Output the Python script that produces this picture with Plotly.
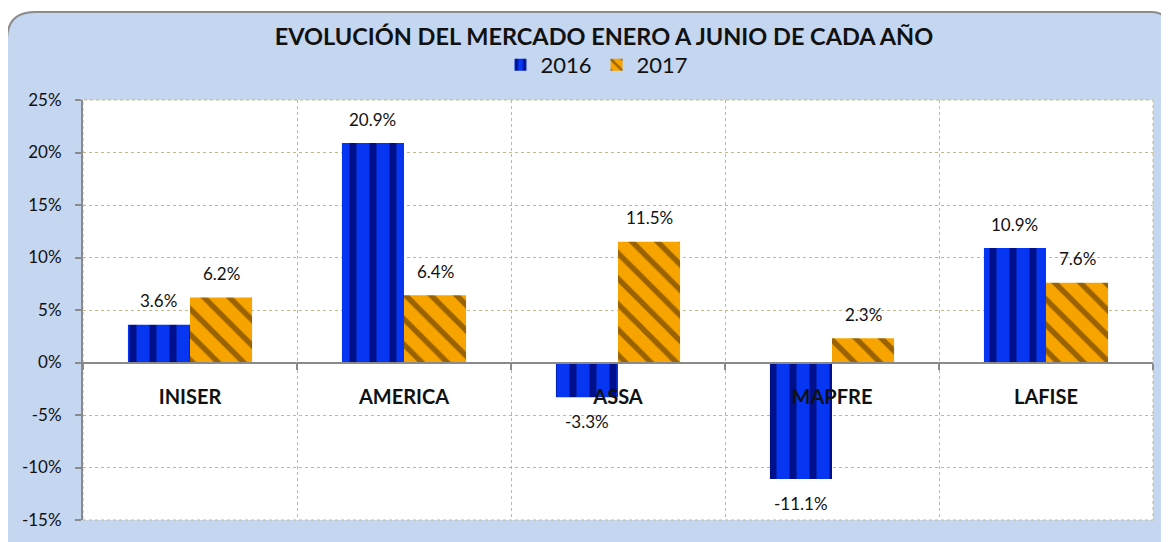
import plotly.graph_objects as go

categories = ["INISER", "AMERICA", "ASSA", "MAPFRE", "LAFISE"]
values_2016 = [0.036, 0.209, -0.033, -0.111, 0.109]
values_2017 = [0.062, 0.064, 0.115, 0.023, 0.076]
series_names = ["2016", "2017"]
y_tickvals = [-0.15, -0.10, -0.05, 0.0, 0.05, 0.10, 0.15, 0.20, 0.25]
y_ticktext = ["-15%", "-10%", "-5%", "0%", "5%", "10%", "15%", "20%", "25%"]
title_text = "EVOLUCIÓN DEL MERCADO ENERO A JUNIO DE CADA AÑO"

# the page body has an 8px margin; lay out in page pixels and convert
OFF = 8
W, H = 1169 - OFF, 542 - OFF


def px(xp):
    return (xp - OFF) / W


def py(yp):
    return 1 - (yp - OFF) / H


x0d, x1d = px(83), px(1153)
y0d, y1d = py(520), py(100)
ymin, ymax = -0.15, 0.25
zero_pos = y0d + (0 - ymin) / (ymax - ymin) * (y1d - y0d)

FONT = "Lato"
GRID = "#c4b888"
BARGAP = 0.42

fig = go.Figure()
fig.add_trace(go.Bar(
    name=series_names[0], x=categories, y=values_2016,
    marker=dict(color="#0a30f0", line=dict(width=0),
                pattern=dict(shape="|", fillmode="replace", bgcolor="#0636f2",
                             fgcolor="#00108a", size=20, solidity=0.35)),
))
fig.add_trace(go.Bar(
    name=series_names[1], x=categories, y=values_2017,
    marker=dict(color="#f0a000", line=dict(width=0),
                pattern=dict(shape="\\", fillmode="replace", bgcolor="#f7a400",
                             fgcolor="#9a6200", size=18, solidity=0.3)),
))

# data labels: offset from each bar end, centred on its bar
half = (1 - BARGAP) / 4
annotations = []
for offset, vals in ((-half, values_2016), (half, values_2017)):
    for i, v in enumerate(vals):
        annotations.append(dict(
            x=i + offset, y=v, xref="x", yref="y", text=f"{v * 100:.1f}%",
            showarrow=False, yshift=24 if v >= 0 else -24,
            xanchor="center", yanchor="middle",
            font=dict(family=FONT, size=17, color="#111")))

# rounded chart-area background
r1, r2 = 28, 14
bx0, by0, bx1, by1 = px(7), py(12), px(1166), py(560)
path = (f"M {bx0} {by1} L {bx0} {by0 - r1 / H} "
        f"Q {bx0} {by0} {bx0 + r1 / W} {by0} "
        f"L {bx1 - r2 / W} {by0} Q {bx1} {by0} {bx1} {by0 - r2 / H} "
        f"L {bx1} {by1} Z")

fig.update_layout(
    width=W, height=H,
    margin=dict(l=0, r=0, t=0, b=0, autoexpand=False),
    paper_bgcolor="white",
    plot_bgcolor="white",
    barmode="group", bargap=BARGAP, bargroupgap=0,
    font=dict(family=FONT, size=16, color="#111"),
    title=dict(text=f"<b>{title_text}</b>", x=px(604), xanchor="center",
               y=py(37), yanchor="middle",
               font=dict(family=FONT, size=23.5, color="#111")),
    legend=dict(orientation="h", x=px(597), xanchor="center", y=py(65),
                yanchor="middle", font=dict(family=FONT, size=22, color="#111"),
                bgcolor="rgba(0,0,0,0)", traceorder="normal",
                itemwidth=30, tracegroupgap=0),
    annotations=annotations,
    xaxis=dict(domain=[x0d, x1d], anchor="free", position=zero_pos, automargin=False,
               tickson="boundaries", showgrid=True, gridcolor=GRID, griddash="dot",
               gridwidth=1, showline=True, linecolor="#8a8a8a", linewidth=2,
               ticks="outside", ticklen=6, tickcolor="#8a8a8a", tickwidth=2,
               ticklabelstandoff=16, zeroline=False,
               tickfont=dict(family=FONT, size=20, color="#111", weight="bold")),
    yaxis=dict(domain=[y0d, y1d], range=[ymin, ymax], tickvals=y_tickvals, automargin=False,
               ticktext=y_ticktext, showgrid=True, gridcolor=GRID, griddash="dot",
               zeroline=False, showline=True, linecolor="#8a8a8a", linewidth=2,
               ticks="outside", ticklen=6, tickcolor="#8a8a8a", tickwidth=2,
               ticklabelstandoff=10,
               tickfont=dict(family=FONT, size=17, color="#111")),
    shapes=[
        dict(type="path", path=path, xref="paper", yref="paper", layer="below",
             fillcolor="#c4d6f0", line=dict(color="#8c8c8c", width=2)),
        dict(type="rect", xref="paper", yref="paper", x0=x0d, x1=x1d, y0=y0d, y1=y1d,
             layer="below", fillcolor="white", line=dict(color=GRID, width=1, dash="dot")),
    ],
)

fig.write_html("out.html")
